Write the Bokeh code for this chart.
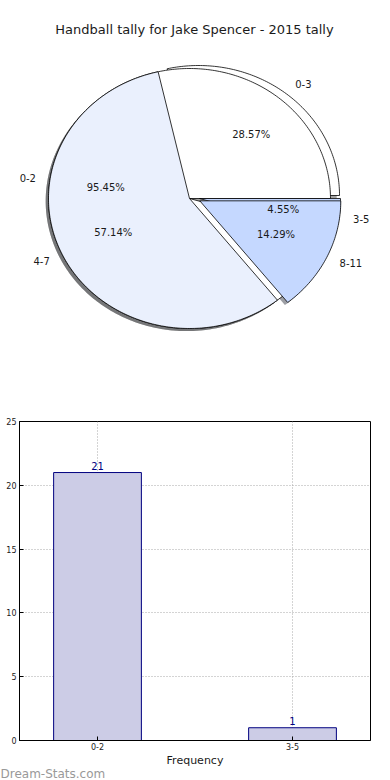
import numpy as np
from bokeh.plotting import figure
from bokeh.models import Range1d, Label, FixedTicker, Title
from bokeh.layouts import column
from bokeh.embed import file_html
from bokeh.resources import INLINE
from bokeh.core.properties import value

# ---------------- data ----------------
TITLE = "Handball tally for Jake Spencer - 2015 tally"
pie_a_labels = ["0-2", "3-5"]
pie_a_values = [21, 1]
pie_b_labels = ["0-3", "4-7", "8-11"]
pie_b_values = [2, 4, 1]
bar_categories = ["0-2", "3-5"]
bar_values = [21, 1]
y_ticks = [0, 5, 10, 15, 20, 25]
WATERMARK = "Dream-Stats.com"

# ---------------- style ----------------
FONT = "DejaVu Sans"
pie_a_colors = ["#FFFFFF", "#C5D8FF"]
pie_b_colors = ["#FFFFFF", "#EAF0FD", "#C5D8FF"]
pie_a_shift = [(0.0, 0.0), (0.071, 0.0)]
pie_b_shift = [(0.064, 0.023), (0.0, 0.0), (0.073, -0.018)]
SHADOW = (-0.02, -0.02)
BORDER_L, BORDER_R = 19, 20


def wedges(values, shifts):
    total = float(sum(values))
    fr = np.array(values, dtype=float) / total
    ends = np.cumsum(fr) * 2 * np.pi
    starts = ends - fr * 2 * np.pi
    out = []
    for s, e, (dx, dy), f in zip(starts, ends, shifts, fr):
        t = np.linspace(s, e, max(8, int((e - s) * 60)))
        xs = [dx] + list(np.cos(t) + dx) + [dx]
        ys = [dy] + list(np.sin(t) + dy) + [dy]
        mid = (s + e) / 2
        out.append(dict(xs=xs, ys=ys, mid=mid, dx=dx, dy=dy, pct=f * 100))
    return out


def dark(hexc):
    h = hexc.lstrip("#")
    r, g, b = (int(h[i:i + 2], 16) for i in (0, 2, 4))
    return "#%02x%02x%02x" % (int(r * 0.3), int(g * 0.3), int(b * 0.3))


wa = wedges(pie_a_values, pie_a_shift)
wb = wedges(pie_b_values, pie_b_shift)

PX_X, PX_Y = 141.0, 130.0
W, H1, H2 = 390, 400, 380
FW = W - BORDER_L - BORDER_R
x0 = -(189.0 - BORDER_L) / PX_X
y1 = 198.0 / PX_Y
pie = figure(width=W, height=H1, output_backend="svg", toolbar_location=None,
             x_range=Range1d(x0, x0 + FW / PX_X), y_range=Range1d(y1 - H1 / PX_Y, y1),
             x_axis_type=None, y_axis_type=None, title=None,
             min_border_left=BORDER_L, min_border_right=BORDER_R,
             min_border_top=0, min_border_bottom=0, outline_line_color=None)
pie.grid.visible = False

# shadows
for w, c in list(zip(wa, pie_a_colors)) + list(zip(wb, pie_b_colors)):
    pie.patch([x + SHADOW[0] for x in w["xs"]], [y + SHADOW[1] for y in w["ys"]],
              fill_color=dark(c), fill_alpha=0.5, line_color=None)

# wedges (drawing order)
order = [(wb[0], pie_b_colors[0]), (wa[0], pie_a_colors[0]), (wa[1], pie_a_colors[1]),
         (wb[1], pie_b_colors[1]), (wb[2], pie_b_colors[2])]
for w, c in order:
    pie.patch(w["xs"], w["ys"], fill_color=c, line_color="black", line_width=0.8)

# labels
lab_kw = dict(text_font=value(FONT), text_font_size="10px", text_color="#1a1a1a",
              text_baseline="middle")
for ws, labels in ((wa, pie_a_labels), (wb, pie_b_labels)):
    for w, lab in zip(ws, labels):
        lx = 1.1 * np.cos(w["mid"]) + w["dx"]
        ly = 1.1 * np.sin(w["mid"]) + w["dy"]
        pie.text(x=[lx], y=[ly], text=[lab], text_align="left" if lx > 0 else "right", **lab_kw)
        px = 0.6 * np.cos(w["mid"]) + w["dx"]
        py = 0.6 * np.sin(w["mid"]) + w["dy"]
        pie.text(x=[px], y=[py], text=["%.2f%%" % w["pct"]], text_align="center", **lab_kw)

pie.add_layout(Label(x=5.0 / PX_X, y=y1 - 29.0 / PX_Y, text=TITLE, text_align="center",
                     text_baseline="middle", text_font=FONT, text_font_size="13px",
                     text_color="#1a1a1a"))

# ---------------- bar chart ----------------
pos = np.arange(len(bar_categories))
bar = figure(width=W, height=H2, output_backend="svg", toolbar_location=None,
             x_range=Range1d(-0.4, len(bar_categories) - 0.6), y_range=Range1d(0, 25),
             min_border_left=BORDER_L, min_border_right=BORDER_R, min_border_top=21,
             min_border_bottom=0, outline_line_color="black", outline_line_width=1)
bar.vbar(x=pos, top=bar_values, width=0.45, fill_color="#CCCCE6", line_color="#00007F",
         line_width=1)
bar.text(x=pos, y=bar_values, text=[str(v) for v in bar_values], text_align="center",
         text_baseline="bottom", y_offset=-3, text_font=value(FONT), text_font_size="10px",
         text_color="#00007F")

bar.xaxis.ticker = FixedTicker(ticks=list(pos))
bar.xaxis.major_label_overrides = {int(i): c for i, c in zip(pos, bar_categories)}
bar.yaxis.ticker = FixedTicker(ticks=y_ticks)
bar.xaxis.axis_label = "Frequency"
for ax in bar.axis:
    ax.major_tick_in = 4
    ax.major_tick_out = 0
    ax.minor_tick_line_color = None
    ax.major_label_text_font = FONT
    ax.major_label_text_font_size = "8px"
    ax.major_label_text_color = "#1a1a1a"
    ax.axis_line_color = "black"
    ax.major_label_standoff = 3
bar.xaxis.major_label_standoff = 2
bar.xaxis.axis_label_text_font = FONT
bar.xaxis.axis_label_text_font_size = "11px"
bar.xaxis.axis_label_text_font_style = "normal"
bar.xaxis.axis_label_text_color = "#1a1a1a"
bar.xaxis.axis_label_standoff = 1

bar.grid.grid_line_color = "#a8a8a8"
bar.grid.grid_line_dash = "1 2"
bar.grid.grid_line_width = 1

wm = Title(text=WATERMARK, align="left", offset=-BORDER_L, vertical_align="top",
           text_font=FONT, text_font_size="12px", text_font_style="normal",
           text_color="#999999")
if "standoff" in Title.properties():
    wm.standoff = -5
bar.add_layout(wm, "below")

layout = column(pie, bar, spacing=0)
open("out.html", "w").write(file_html(layout, INLINE))
